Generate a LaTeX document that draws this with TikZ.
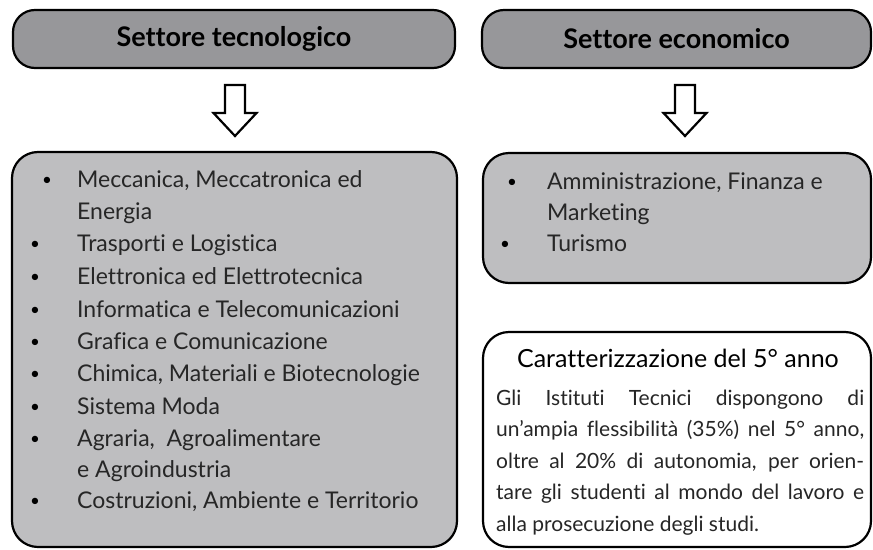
\documentclass[tikz,border=0pt]{standalone}
\usepackage{fontspec}
\setmainfont{Lato}[Ligatures={NoCommon}]
\begin{document}
\begin{tikzpicture}[x=1pt,y=-1pt,
  box/.style={draw=black,line width=2.2pt,rounded corners=22pt,inner sep=0pt},
  hdr/.style={box,fill=gtop,font=\fontsize{27}{31}\selectfont\bfseries},
  lst/.style={anchor=base west,inner sep=0pt,font=\fontsize{23}{27}\selectfont,text=black!85},
  bul/.style={anchor=base,inner sep=0pt,font=\fontsize{17}{20}\selectfont},
  hollow/.style={draw=black,line width=2.2pt,fill=white,line join=miter}]
\definecolor{gtop}{HTML}{97979A}
\definecolor{glist}{HTML}{BEBEC0}
\useasboundingbox (0,0) rectangle (873,549);
% headers
\node[hdr,minimum width=442pt,minimum height=58pt] (t1) at (234,39) {Settore tecnologico};
\node[hdr,minimum width=389pt,minimum height=58pt] (t2) at (676.5,39) {Settore economico};
% arrows
\coordinate (a1) at (235,85);
\coordinate (a2) at (685,85);
\foreach \a in {a1,a2}{
  \draw[hollow] ([xshift=-10pt]\a) -- ([xshift=10pt]\a) -- ([xshift=10pt,yshift=-28pt]\a)
    -- ([xshift=21.5pt,yshift=-28pt]\a) -- ([yshift=-51pt]\a) -- ([xshift=-21.5pt,yshift=-28pt]\a)
    -- ([xshift=-10pt,yshift=-28pt]\a) -- cycle;
}
% boxes
\node[box,fill=glist,minimum width=445pt,minimum height=395pt,rounded corners=26pt] (L) at (234.5,349.5) {};
\node[box,fill=glist,minimum width=388pt,minimum height=130pt,rounded corners=26pt] (R1) at (677,218) {};
\node[box,fill=white,minimum width=388pt,minimum height=215pt,rounded corners=26pt] (R2) at (677,439.5) {};
% left list
\node[bul] (b1) at (47,185) {•};
\node[lst] (l1) at (77,187) {Meccanica, Meccatronica ed};
\node[lst] (l1b) at (77,219) {Energia};
\node[bul] (b2) at (35,249) {•};
\node[lst] (l2) at (77,251) {Trasporti e Logistica};
\node[bul] (b3) at (35,282) {•};
\node[lst] (l3) at (77,284) {Elettronica ed Elettrotecnica};
\node[bul] (b4) at (35,315) {•};
\node[lst] (l4) at (77,317) {Informatica e Telecomunicazioni};
\node[bul] (b5) at (35,347) {•};
\node[lst] (l5) at (77,349) {Grafica e Comunicazione};
\node[bul] (b6) at (35,379) {•};
\node[lst] (l6) at (77,381) {Chimica, Materiali e Biotecnologie};
\node[bul] (b7) at (35,412) {•};
\node[lst] (l7) at (77,414) {Sistema Moda};
\node[bul] (b8) at (35,444) {•};
\node[lst] (l8) at (77,446) {Agraria,\ \ Agroalimentare};
\node[lst] (l8b) at (77,477) {e Agroindustria};
\node[bul] (b9) at (35,506) {•};
\node[lst] (l9) at (77,508) {Costruzioni, Ambiente e Territorio};
% right list
\node[bul] (r1) at (512,187) {•};
\node[lst] (rl1) at (547,189) {Amministrazione, Finanza e};
\node[lst] (rl1b) at (547,220) {Marketing};
\node[bul] (r2) at (505,249) {•};
\node[lst] (rl2) at (547,251) {Turismo};
% 5th year
\node[anchor=base,inner sep=0pt,font=\fontsize{25}{29}\selectfont] (ct) at (678,367) {Caratterizzazione del 5° anno};
\node[anchor=base west,inner sep=0pt,text width=368pt,align=justify,
  font=\fontsize{21}{31.5}\selectfont,text=black!85] (cb) at (496,405)
  {Gli Istituti Tecnici dispongono di\linebreak un'ampia flessibilità (35\%) nel 5° anno,\linebreak oltre al 20\% di autonomia, per orien-\linebreak tare gli studenti al mondo del lavoro e\linebreak alla prosecuzione degli studi.};
\end{tikzpicture}
\end{document}
